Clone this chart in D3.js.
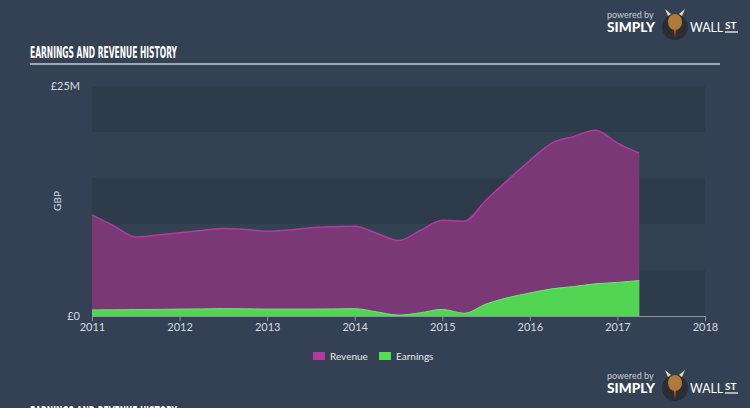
<!DOCTYPE html>
<html><head><meta charset="utf-8">
<script src="https://cdn.jsdelivr.net/npm/d3@7"></script>
<style>
html,body{margin:0;padding:0;background:#344154;}
svg{display:block;}
</style></head>
<body>
<svg id="chart" width="750" height="408"></svg>
<script>
const dates = [2011.0,2011.25,2011.5,2011.75,2012.0,2012.25,2012.5,2012.75,2013.0,2013.25,2013.5,2013.75,2014.0,2014.25,2014.5,2014.75,2015.0,2015.25,2015.5,2015.75,2016.0,2016.25,2016.5,2016.75,2017.0,2017.25];
const revenue = [11.0,9.8,8.6,8.8,9.05,9.3,9.5,9.4,9.2,9.35,9.6,9.7,9.75,9.0,8.2,9.3,10.4,10.3,12.6,14.8,16.9,18.8,19.5,20.2,18.8,17.7];
const earnings = [0.65,0.67,0.7,0.72,0.75,0.77,0.8,0.78,0.75,0.75,0.75,0.77,0.8,0.45,0.1,0.35,0.72,0.3,1.3,2.0,2.5,2.95,3.2,3.5,3.65,3.85];
const yearTicks = [2011,2012,2013,2014,2015,2016,2017,2018];
const yTickLabels = ["£0","£25M"];
const seriesNames = ["Revenue","Earnings"];

(function(){
const svg = d3.select("#chart");
const W = 750, H = 408;
const pLeft = 92, pRight = 705, pTop = 86, pBottom = 316;
const x = d3.scaleLinear().domain([2011,2018]).range([pLeft,pRight]);
const y = d3.scaleLinear().domain([0,25]).range([pBottom,pTop]);
const font = "Lato, 'Open Sans', sans-serif";

svg.append("rect").attr("width",W).attr("height",H).attr("fill","#344154");

// Header
svg.append("text").attr("x",30).attr("y",58).text("EARNINGS AND REVENUE HISTORY")
  .attr("font-family","'DejaVu Sans Condensed','Liberation Sans Narrow',sans-serif").attr("font-weight","bold")
  .attr("font-size",15.5).attr("fill","#ffffff").attr("textLength",147).attr("lengthAdjust","spacingAndGlyphs");
svg.append("line").attr("x1",30).attr("x2",720).attr("y1",64).attr("y2",64).attr("stroke","#c5cad1").attr("stroke-width",1.5);

// Logo
function logo(g){
  g.append("text").attr("x",0).attr("y",0).text("powered by").attr("font-family",font).attr("font-size",9).attr("fill","#c9ced4");
  g.append("text").attr("x",0).attr("y",14).text("SIMPLY").attr("font-family",font).attr("font-weight","900").attr("font-size",13).attr("fill","#ffffff").attr("textLength",48).attr("lengthAdjust","spacingAndGlyphs");
  const c = g.append("g").attr("transform","translate(68,6)");
  c.append("circle").attr("r",13).attr("cx",0).attr("cy",3).attr("fill","#2a2e33");
  c.append("ellipse").attr("cx",0).attr("cy",-2).attr("rx",7).attr("ry",8).attr("fill","#b07a3a");
  c.append("path").attr("d","M-7,-8 L-10,-15 L-4,-10 Z M7,-8 L10,-15 L4,-10 Z").attr("fill","#e8d9b0");
  c.append("path").attr("d","M-1,6 L1,6 L0,14 Z").attr("fill","#e0522a");
  g.append("text").attr("x",83).attr("y",14).text("WALL").attr("font-family",font).attr("font-size",13).attr("fill","#ffffff").attr("textLength",33).attr("lengthAdjust","spacingAndGlyphs");
  g.append("text").attr("x",118).attr("y",11).text("ST").attr("font-family",font).attr("font-weight","bold").attr("font-size",10).attr("fill","#ffffff");
  g.append("line").attr("x1",118).attr("x2",131).attr("y1",14).attr("y2",14).attr("stroke","#fff").attr("stroke-width",1.2);
}
logo(svg.append("g").attr("transform","translate(607,18)"));
logo(svg.append("g").attr("transform","translate(607,379)"));

// Bands
const bandVals = d3.range(0,25,5);
svg.append("g").selectAll("rect").data(bandVals).join("rect")
  .attr("x",pLeft).attr("width",pRight-pLeft)
  .attr("y",d=>y(d+5)).attr("height",d=>y(d)-y(d+5))
  .attr("fill",(d,i)=> i%2===0 ? "#2e3b4b" : "#334253");

const data = dates.map((d,i)=>({d, r:revenue[i], e:earnings[i]}));
const curve = d3.curveMonotoneX;
const areaR = d3.area().x(p=>x(p.d)).y0(y(0)).y1(p=>y(p.r)).curve(curve);
const lineR = d3.line().x(p=>x(p.d)).y(p=>y(p.r)).curve(curve);
const areaE = d3.area().x(p=>x(p.d)).y0(y(0)).y1(p=>y(p.e)).curve(curve);
const lineE = d3.line().x(p=>x(p.d)).y(p=>y(p.e)).curve(curve);

svg.append("path").datum(data).attr("d",areaR).attr("fill","#7b3877");
svg.append("path").datum(data).attr("d",lineR).attr("fill","none").attr("stroke","#b23a9e").attr("stroke-width",1.5);
svg.append("path").datum(data).attr("d",areaE).attr("fill","#52d552");
svg.append("path").datum(data).attr("d",lineE).attr("fill","none").attr("stroke","#6ee86e").attr("stroke-width",1);

// X axis
const xAxis = d3.axisBottom(x).tickValues(yearTicks).tickFormat(d3.format("d")).tickSize(5).tickSizeOuter(0);
const gx = svg.append("g").attr("transform",`translate(0,${pBottom})`).call(xAxis);
gx.select(".domain").attr("stroke","#8c96a3");
gx.selectAll(".tick line").attr("stroke","#8c96a3");
gx.selectAll(".tick text").attr("fill","#d6dbe0").attr("font-family",font).attr("font-size",11).attr("dy","0.6em");

// Y labels
svg.append("g").selectAll("text").data([0,25]).join("text")
  .attr("x",80).attr("y",d=>y(d)+4).attr("text-anchor","end")
  .text((d,i)=>yTickLabels[i]).attr("font-family",font).attr("font-size",11).attr("fill","#d6dbe0");
svg.append("text").attr("transform","translate(61,201) rotate(-90)").attr("text-anchor","middle")
  .text("GBP").attr("font-family",font).attr("font-size",10).attr("fill","#d6dbe0");

// Legend
const legColors = ["#b23a9e","#52e052"];
const legX = [313,379];
const lg = svg.append("g");
seriesNames.forEach((n,i)=>{
  lg.append("rect").attr("x",legX[i]).attr("y",352).attr("width",12).attr("height",8).attr("fill",legColors[i]);
  lg.append("text").attr("x",legX[i]+17).attr("y",360).text(n).attr("font-family",font).attr("font-size",10).attr("fill","#e6e9ec");
});

// Cut-off next title (as in the reference, only its top edge is visible)
svg.append("text").attr("x",30).attr("y",418).text("EARNINGS AND REVENUE HISTORY")
  .attr("font-family","'DejaVu Sans Condensed',sans-serif").attr("font-weight","bold")
  .attr("font-size",15.5).attr("fill","#ffffff").attr("textLength",147).attr("lengthAdjust","spacingAndGlyphs");
})();
</script>
</body></html>
